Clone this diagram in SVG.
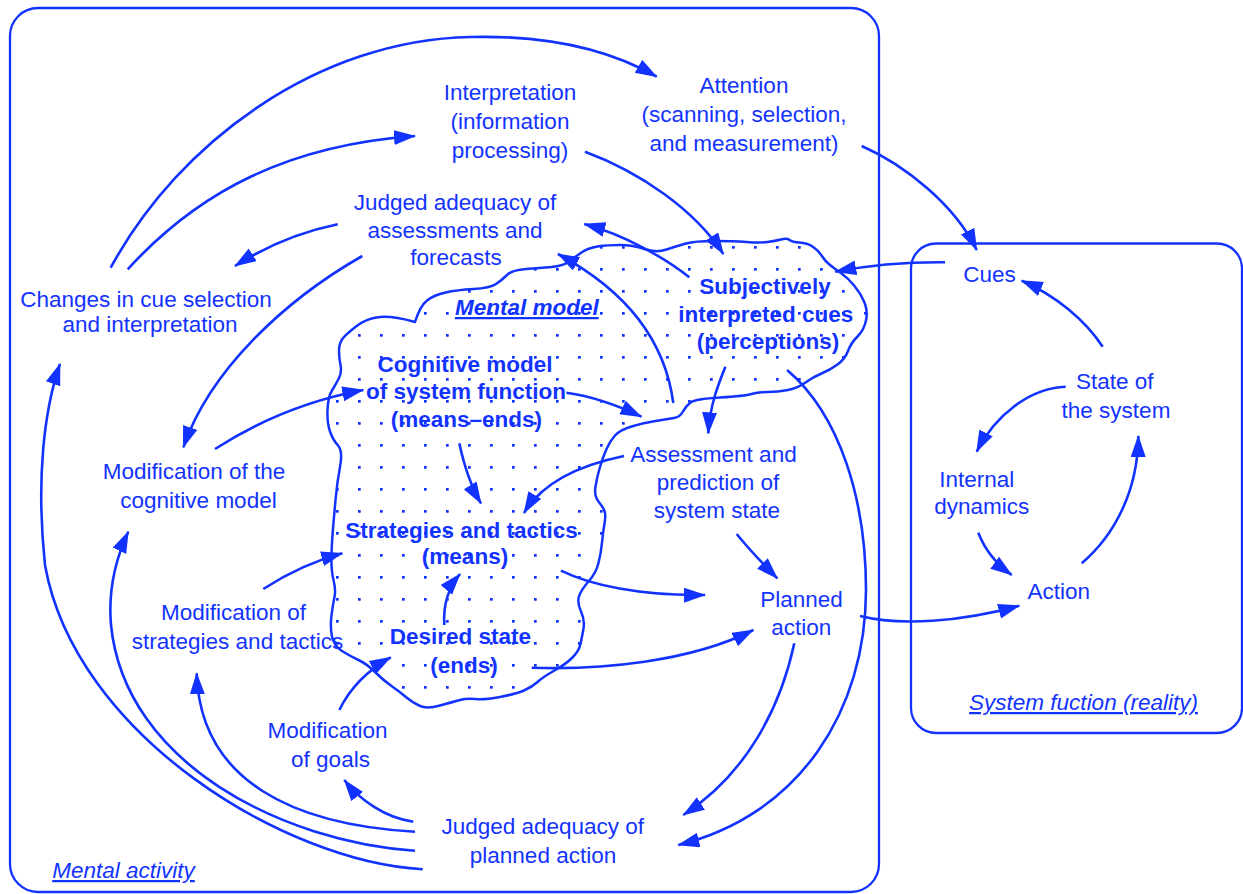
<svg xmlns="http://www.w3.org/2000/svg" width="1243" height="894" viewBox="0 0 1243 894">
  <defs>
    <style>
      .lbl { font-family: "Liberation Sans", Arial, sans-serif; font-size: 22.5px; fill: #1233ff; text-anchor: middle; }
      .bold { font-weight: bold; }
      .cap { font-style: italic; text-decoration: underline; }
      .frame { fill: none; stroke: #1233ff; stroke-width: 2.3; }
      .link { fill: none; stroke: #1233ff; stroke-width: 2.6; marker-end: url(#arrow); }
      .cloud { fill: url(#dots); stroke: #1233ff; stroke-width: 2.5; stroke-linejoin: round; }
    </style>
    <marker id="arrow" markerUnits="userSpaceOnUse" markerWidth="24" markerHeight="16" refX="21" refY="7.5" orient="auto">
      <path d="M0,0 L22,7.5 L0,15 z" fill="#1233ff"/>
    </marker>
    <pattern id="dots" patternUnits="userSpaceOnUse" x="0" y="0" width="22" height="22">
      <rect x="0" y="0" width="22" height="22" fill="#ffffff"/>
      <rect x="6" y="4" width="2.7" height="2.7" fill="#1233ff"/>
    </pattern>
  </defs>

  <rect x="0" y="0" width="1243" height="894" fill="#ffffff"/>

  <!-- frames -->
  <g id="mental-activity">
    <rect class="frame" x="10" y="8" width="869" height="884" rx="28"/>
    <text class="lbl cap" x="123.5" y="878">Mental activity</text>
  </g>
  <g id="system-function">
    <rect class="frame" x="911" y="243.5" width="331" height="489.5" rx="25"/>
    <text class="lbl cap" x="1083.5" y="710">System fuction (reality)</text>
  </g>

  <!-- mental model cloud -->
  <g id="mental-model">
    <path class="cloud" d="M415,322 Q420,306 427,300.5 Q434,295 445.5,292.5 Q457,290 473.5,289 Q490,288 496,284 Q502,280 507,275 Q512,270 526,269 Q540,268 551.5,267 Q563,266 569,261.5 Q575,257 581.5,252.5 Q588,248 597.5,246.5 Q607,245 620,245 Q633,245 644.5,249 Q656,253 666.5,249.5 Q677,246 686,243.5 Q695,241 714,241 Q733,241 746.5,242 Q760,243 767.5,242 Q775,241 781,239.5 Q787,238 789.5,240 Q792,242 799.5,242.5 Q807,243 812.5,246.5 Q818,250 821.5,255.5 Q825,261 830,265 Q835,269 841.5,273.5 Q848,278 854.5,286 Q861,294 864.5,302.5 Q868,311 866,320.5 Q864,330 857.5,336.5 Q851,343 848,351 Q845,359 837.5,364.5 Q830,370 821.5,373.5 Q813,377 805.5,382.5 Q798,388 788,390 Q778,392 768,392 Q758,392 751.5,394 Q745,396 720,397.5 Q695,399 690.5,402.5 Q686,406 683,411.5 Q680,417 674,418 Q668,419 655.5,421 Q643,423 631.5,426.5 Q620,430 615,435.5 Q610,441 606.5,449 Q603,457 600,467 Q597,477 595.5,486.5 Q594,496 598.5,501.5 Q603,507 604.5,511 Q606,515 604.5,523.5 Q603,532 602,542.5 Q601,553 598.5,563 Q596,573 588.5,581.5 Q581,590 579,596.5 Q577,603 581,611.5 Q585,620 583.5,628.5 Q582,637 580.5,644 Q579,651 572.5,657.5 Q566,664 554.5,670.5 Q543,677 537.5,682 Q532,687 524,690.5 Q516,694 500,697 Q484,700 475.5,699 Q467,698 460,700 Q453,702 440,705.5 Q427,709 420,706 Q413,703 406.5,697.5 Q400,692 391.5,686 Q383,680 375,672 Q367,664 358.5,660 Q350,656 342,651 Q334,646 332,636.5 Q330,627 331.5,615.5 Q333,604 334.5,597 Q336,590 333.5,580 Q331,570 331.5,555 Q332,540 333,528.5 Q334,517 335.5,500 Q337,483 340,467 Q343,451 338,445.5 Q333,440 330,431.5 Q327,423 327.5,410 Q328,397 332,390.5 Q336,384 339,378 Q342,372 340.5,365 Q339,358 339,351 Q339,344 342,339.5 Q345,335 356,326.5 Q367,318 380,317 Q393,316 415,322 Z"/>
    <text class="lbl bold cap" x="526.8" y="315">Mental model</text>
  </g>

  <!-- nodes -->
  <g id="attention">
    <text class="lbl" x="744" y="92.5">Attention</text>
    <text class="lbl" x="744" y="121.5">(scanning, selection,</text>
    <text class="lbl" x="744" y="150.5">and measurement)</text>
  </g>
  <g id="interpretation">
    <text class="lbl" x="510" y="100">Interpretation</text>
    <text class="lbl" x="510" y="129">(information</text>
    <text class="lbl" x="510" y="158">processing)</text>
  </g>
  <g id="judged-assessments">
    <text class="lbl" x="455" y="210">Judged adequacy of</text>
    <text class="lbl" x="455" y="237.5">assessments and</text>
    <text class="lbl" x="456" y="264.5">forecasts</text>
  </g>
  <g id="changes-cues">
    <text class="lbl" x="146" y="306.5">Changes in cue selection</text>
    <text class="lbl" x="150" y="332">and interpretation</text>
  </g>
  <g id="mod-cognitive">
    <text class="lbl" x="194" y="479">Modification of the</text>
    <text class="lbl" x="198.5" y="508">cognitive model</text>
  </g>
  <g id="cognitive-model">
    <text class="lbl bold" x="465" y="371.5">Cognitive model</text>
    <text class="lbl bold" x="466" y="398.5">of system function</text>
    <text class="lbl bold" x="466.4" y="426.5">(means–ends)</text>
  </g>
  <g id="subjective-cues">
    <text class="lbl bold" x="765" y="294">Subjectively</text>
    <text class="lbl bold" x="765.7" y="321.5">interpreted cues</text>
    <text class="lbl bold" x="768" y="349">(perceptions)</text>
  </g>
  <g id="strategies">
    <text class="lbl bold" x="461.5" y="537.5">Strategies and tactics</text>
    <text class="lbl bold" x="465" y="563.5">(means)</text>
  </g>
  <g id="desired-state">
    <text class="lbl bold" x="460.4" y="644">Desired state</text>
    <text class="lbl bold" x="464" y="673">(ends)</text>
  </g>
  <g id="assessment">
    <text class="lbl" x="713.5" y="462">Assessment and</text>
    <text class="lbl" x="718" y="490">prediction of</text>
    <text class="lbl" x="717" y="518">system state</text>
  </g>
  <g id="planned-action">
    <text class="lbl" x="801.5" y="607">Planned</text>
    <text class="lbl" x="801.2" y="635">action</text>
  </g>
  <g id="mod-strategies">
    <text class="lbl" x="233.5" y="620">Modification of</text>
    <text class="lbl" x="237.5" y="649">strategies and tactics</text>
  </g>
  <g id="mod-goals">
    <text class="lbl" x="327.5" y="738">Modification</text>
    <text class="lbl" x="330.5" y="767">of goals</text>
  </g>
  <g id="judged-action">
    <text class="lbl" x="542.8" y="834">Judged adequacy of</text>
    <text class="lbl" x="543" y="862.5">planned action</text>
  </g>
  <g id="cues">
    <text class="lbl" x="989.5" y="281.5">Cues</text>
  </g>
  <g id="system-state">
    <text class="lbl" x="1114.7" y="388.5">State of</text>
    <text class="lbl" x="1116" y="417.5">the system</text>
  </g>
  <g id="internal-dynamics">
    <text class="lbl" x="976.7" y="487">Internal</text>
    <text class="lbl" x="981.7" y="514">dynamics</text>
  </g>
  <g id="action">
    <text class="lbl" x="1058.8" y="599">Action</text>
  </g>

  <!-- connectors -->
  <g id="connectors">
    <path class="link" d="M110.7,267.7 C180,140 320,40 470,37 C550,35 610,50 656.7,76.7"/>
    <path class="link" d="M127.7,269.3 C200,190 290,145 415,136"/>
    <path class="link" d="M337.7,224.3 C300,232 265,247 235,266"/>
    <path class="link" d="M362.3,256 C285,300 210,370 183.3,447.3"/>
    <path class="link" d="M215,449 C260,420 310,400 363.3,390"/>
    <path class="link" d="M689.3,277.3 C665,258 625,235 584.3,224"/>
    <path class="link" d="M673.3,403 C665,340 625,290 558,254"/>
    <path class="link" d="M585,151.7 C640,172 695,210 723.3,254"/>
    <path class="link" d="M861.7,146 C905,165 955,205 976.7,250"/>
    <path class="link" d="M945,262.3 C905,262 865,266 835.3,271.7"/>
    <path class="link" d="M725.4,366.7 C718,385 710,405 708.3,433.3"/>
    <path class="link" d="M787.1,370 C840,415 866,500 866,590 C866,710 800,815 678.3,845"/>
    <path class="link" d="M794.3,643.3 C780,710 745,775 683.3,815"/>
    <path class="link" d="M860,616 C900,626 960,622 1019.3,605.7"/>
    <path class="link" d="M736.7,534 C748,548 762,563 777.3,578.3"/>
    <path class="link" d="M624,456 C590,463 545,478 524,513"/>
    <path class="link" d="M459.3,443.3 C464,465 470,485 481,503.3"/>
    <path class="link" d="M566.4,392.7 C590,396 615,404 641.4,416.7"/>
    <path class="link" d="M561,570.7 C590,585 640,596 705,595"/>
    <path class="link" d="M531.7,667.7 C600,670 690,662 753.3,630"/>
    <path class="link" d="M444.3,625 C443,605 448,588 460,574"/>
    <path class="link" d="M339.3,710 C350,688 368,670 390.7,657.3"/>
    <path class="link" d="M263.3,589 C285,575 310,562 342.3,553.3"/>
    <path class="link" d="M413.3,821.7 C385,818 360,800 344.3,780"/>
    <path class="link" d="M415,831.7 C295,825 200,782 196.7,673.3"/>
    <path class="link" d="M415,850.7 C285,842 125,765 111,625 C108,590 116,558 128.3,531.7"/>
    <path class="link" d="M422.7,869.3 C285,862 75,735 45,565 C36,480 44,410 60,364"/>
    <path class="link" d="M1102.7,346.7 C1085,320 1055,295 1021.7,280.7"/>
    <path class="link" d="M1065.7,386.7 C1030,388 995,415 976.7,451.7"/>
    <path class="link" d="M978.3,532.7 C985,550 995,563 1011.7,575"/>
    <path class="link" d="M1081.7,563.3 C1115,535 1138,490 1138.3,436"/>
  </g>
</svg>
